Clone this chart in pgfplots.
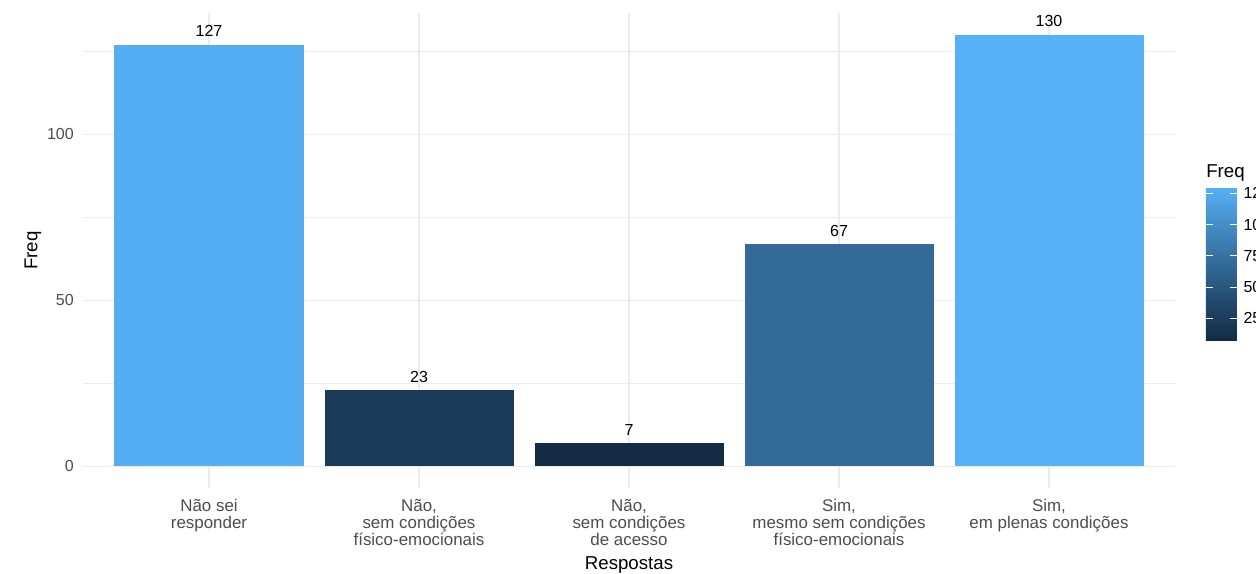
\documentclass[border=0pt]{standalone}
\usepackage{pgfplots}
\pgfplotsset{compat=1.18}
\usepackage{fontspec}
\setmainfont{Liberation Sans}
\definecolor{gridc}{HTML}{EBEBEB}
\definecolor{tickc}{HTML}{4D4D4D}
\definecolor{cA}{HTML}{55AEF3}
\definecolor{cB}{HTML}{1B3A58}
\definecolor{cC}{HTML}{132B43}
\definecolor{cD}{HTML}{336A98}
\definecolor{cE}{HTML}{56B1F7}
\newcommand{\xtickfont}{\fontsize{12.7}{12.5}\selectfont}
\newcommand{\ytickfont}{\fontsize{12}{13}\selectfont}
\newcommand{\barfont}{\fontsize{12}{13}\selectfont}
\newcommand{\titlefont}{\fontsize{14}{16}\selectfont}
\begin{document}
\begin{tikzpicture}
\begin{axis}[
  at={(62.25pt,64.5pt)}, anchor=south west,
  scale only axis, width=819pt, height=356.25pt,
  xmin=-0.6, xmax=4.6, ymin=-6.5, ymax=136.5,
  enlargelimits=false, clip=false,
  axis line style={draw=none},
  major tick length=0pt, minor tick length=0pt,
  xtick={0,1,2,3,4},
  xticklabels={{Não sei\\responder},{Não,\\sem condições\\físico-emocionais},{Não,\\sem condições\\de acesso},{Sim,\\mesmo sem condições\\físico-emocionais},{Sim,\\em plenas condições}},
  ytick={0,50,100}, minor ytick={25,75,125},
  xmajorgrids, ymajorgrids, yminorgrids,
  major grid style={draw=gridc, line width=1.1pt},
  minor grid style={draw=gridc, line width=0.6pt},
  xticklabel style={anchor=north, align=center, inner sep=0pt, yshift=-8.5pt, text=tickc, font=\xtickfont},
  yticklabel style={anchor=east, inner sep=0pt, xshift=-6.75pt, text=tickc, font=\ytickfont},
  /pgf/number format/assume math mode=true,
  xlabel={Respostas}, ylabel={Freq},
  every axis x label/.style={at={(axis description cs:0.5,-0.1726)}, anchor=base, font=\titlefont},
  every axis y label/.style={at={(axis description cs:-0.0458,0.5)}, rotate=90, anchor=center, font=\titlefont},
  ybar, bar width=0.9,
  nodes near coords,
  nodes near coords style={anchor=south, inner sep=0pt, yshift=5.5pt, text=black, font=\barfont},
  colorbar,
  colorbar/width=23.25pt,
  colormap={gg}{rgb255=(19,43,67) rgb255=(34,73,108) rgb255=(51,106,152) rgb255=(68,141,198) rgb255=(86,177,247)},
  point meta min=7, point meta max=130,
  colorbar style={
    at={(parent axis.south east)}, anchor=south west,
    xshift=14.7pt, yshift=110.25pt,
    scale only axis, height=115.5pt,
    ytick={25,50,75,100,125},
    axis line style={draw=none},
    tick align=inside, yticklabel pos=right, ytick pos=both,
    major tick length=5pt,
    tick style={draw=white, line width=0.75pt},
    yticklabel style={font=\ytickfont, text=black, anchor=west, inner sep=0pt, xshift=4.7pt, /pgf/number format/assume math mode=true},
    axis on top,
  },
]
\addplot[fill=cA, draw=none, bar shift=0pt] coordinates {(0,127)};
\addplot[fill=cB, draw=none, bar shift=0pt] coordinates {(1,23)};
\addplot[fill=cC, draw=none, bar shift=0pt] coordinates {(2,7)};
\addplot[fill=cD, draw=none, bar shift=0pt] coordinates {(3,67)};
\addplot[fill=cE, draw=none, bar shift=0pt] coordinates {(4,130)};
\end{axis}
\node[anchor=base west, inner sep=0pt, font=\titlefont] at (904.5pt,297pt) {Freq};
\pgfresetboundingbox
\useasboundingbox (0,0) rectangle (942pt,430.5pt);
\end{tikzpicture}
\end{document}
